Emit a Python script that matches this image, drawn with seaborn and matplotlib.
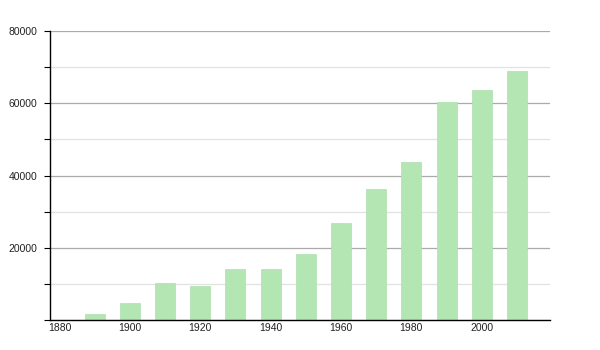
import matplotlib
matplotlib.use("Agg")
import matplotlib.pyplot as plt
import seaborn as sns
import pandas as pd
from matplotlib.ticker import MultipleLocator

years = [1890, 1900, 1910, 1920, 1930, 1940, 1950, 1960, 1970, 1980, 1990, 2000, 2010]
population = [1700, 4700, 10300, 9500, 14050, 14050, 18300, 26900, 36250, 43700, 60300, 63650, 69000]
x_ticks = [1880, 1900, 1920, 1940, 1960, 1980, 2000]
y_ticks = [20000, 40000, 60000, 80000]

sns.set_theme(style="white")
plt.rcParams['font.family'] = ['Liberation Sans', 'DejaVu Sans']

df = pd.DataFrame({"year": years, "population": population})

fig = plt.figure(figsize=(6, 3.5), dpi=100)
ax = fig.add_axes([50/600, 30/350, 500/600, 289/350])

sns.barplot(data=df, x="year", y="population", native_scale=True, width=0.57,
            color="#b3e6b3", saturation=1, edgecolor="#ade0ad", linewidth=0.5, ax=ax)

ax.set_xlim(1877.3, 2019.4)
ax.set_ylim(0, 80000)
ax.set_xticks(x_ticks)
ax.set_xticklabels([str(v) for v in x_ticks])
ax.set_yticks(y_ticks)
ax.set_yticklabels([str(v) for v in y_ticks])
ax.yaxis.set_minor_locator(MultipleLocator(10000))

ax.grid(axis="y", which="major", color="#aaaaaa", linewidth=0.9)
ax.grid(axis="y", which="minor", color="#e2e2e2", linewidth=0.9)
ax.set_axisbelow(True)

for s in ["top", "right"]:
    ax.spines[s].set_visible(False)
for s in ["left", "bottom"]:
    ax.spines[s].set_visible(True)
    ax.spines[s].set_color("black")
    ax.spines[s].set_linewidth(1.0)

ax.tick_params(axis="y", which="both", left=True, length=4, width=0.8, color="black",
               labelsize=7.5, pad=5, labelcolor="#222222")
ax.tick_params(axis="x", which="both", bottom=False, length=0, labelsize=7.5, pad=2,
               labelcolor="#222222")
ax.set_xlabel("")
ax.set_ylabel("")

fig.savefig("out.png", dpi=100)
